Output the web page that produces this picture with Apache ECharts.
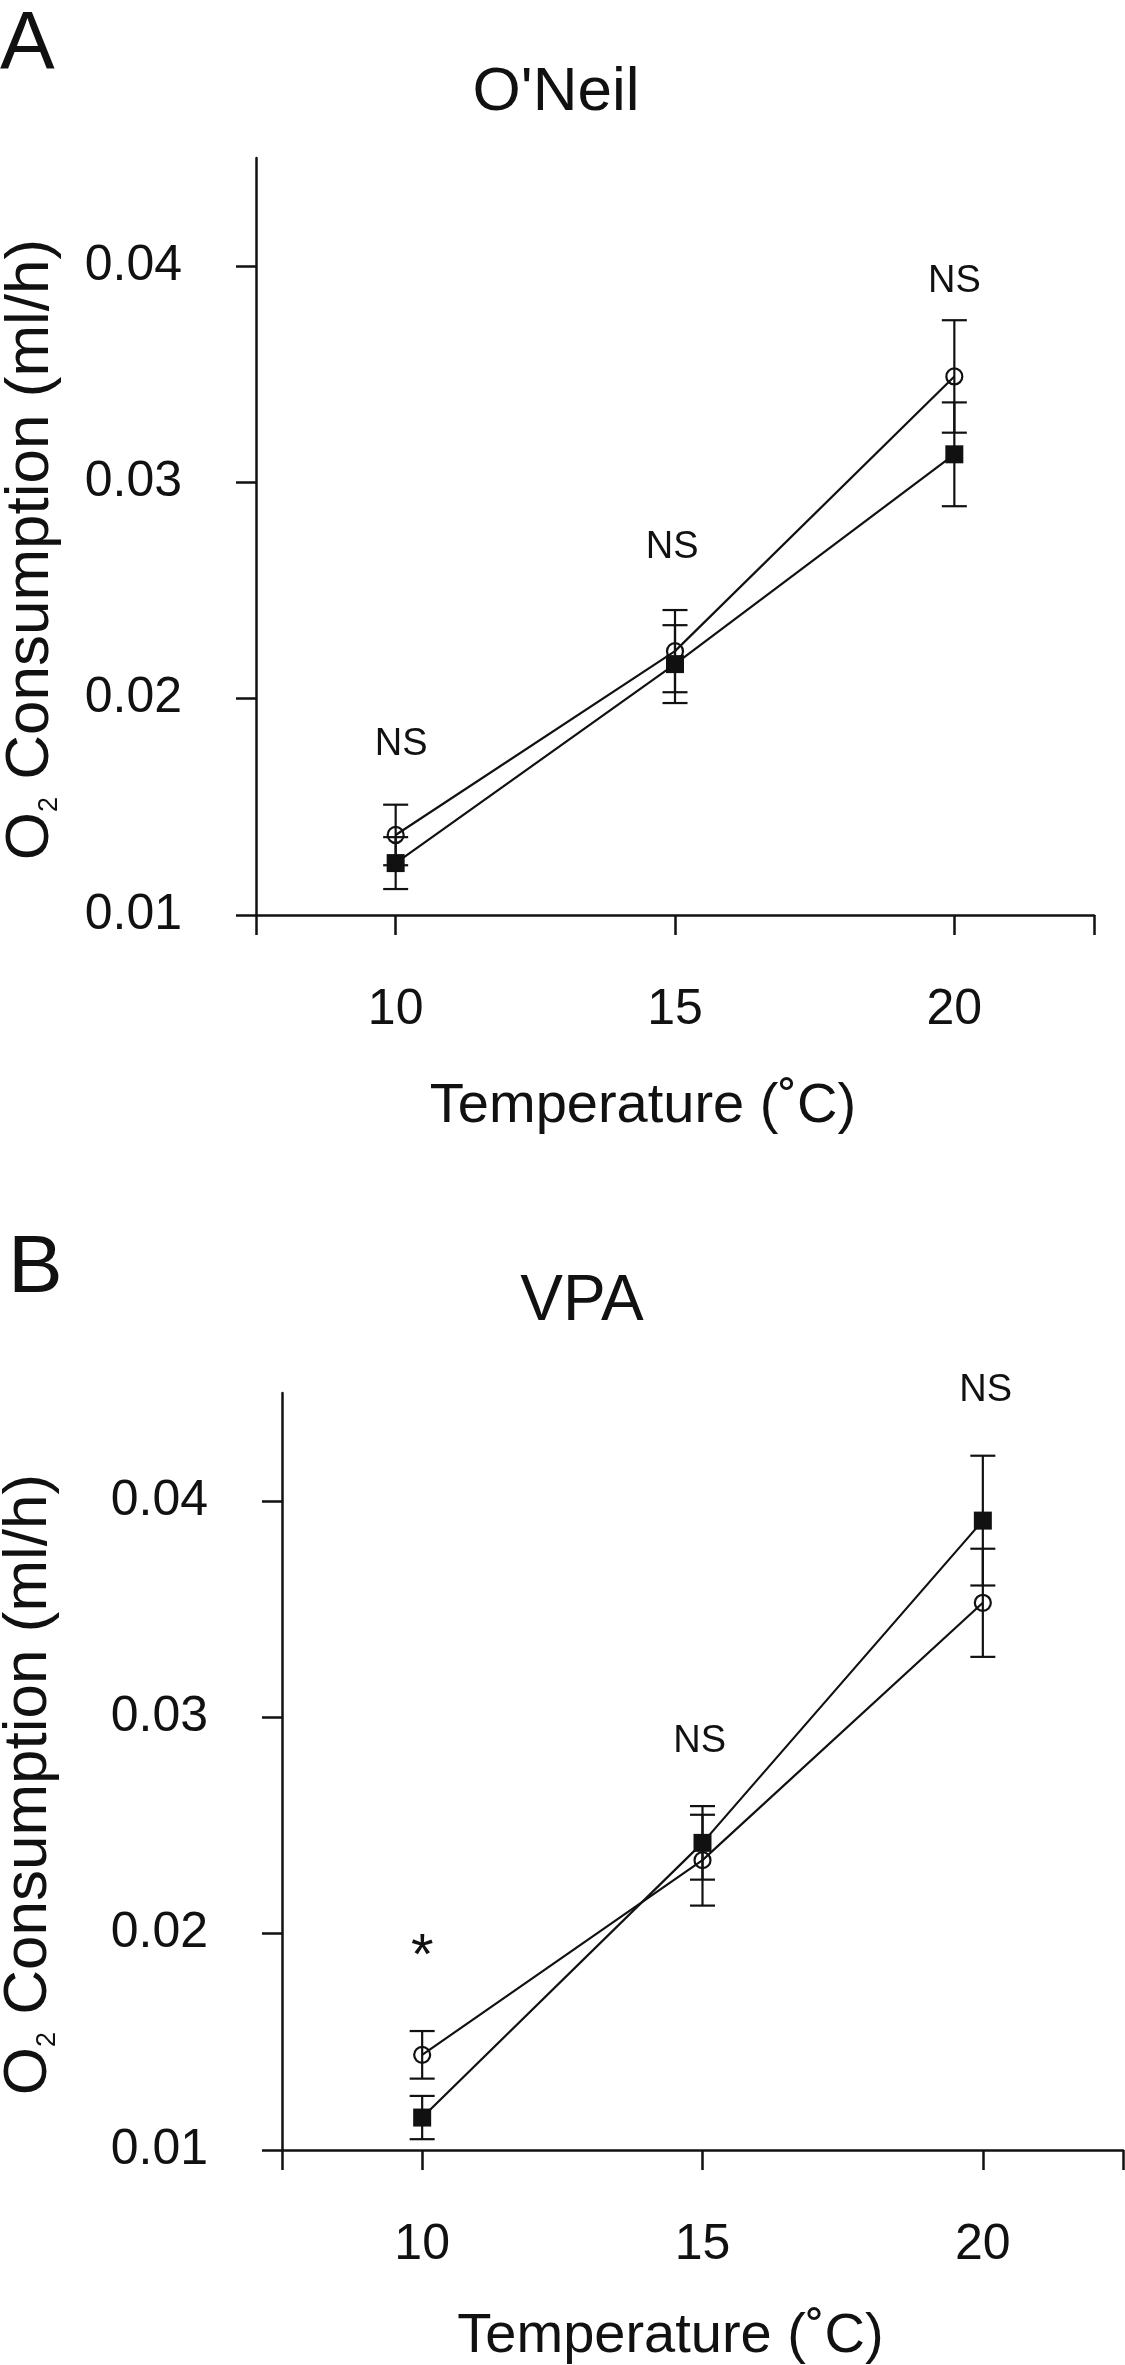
<!DOCTYPE html>
<html>
<head>
<meta charset="utf-8">
<script src="https://cdn.jsdelivr.net/npm/echarts@6/dist/echarts.min.js"></script>
<style>
html,body{margin:0;padding:0;background:#fff;}
#chart{width:1125px;height:2365px;}
</style>
</head>
<body>
<div id="chart"></div>
<script>
var temps = [10, 15, 20];
var xTicks = [7.5, 10, 15, 20, 22.5];
var xLabels = [10, 15, 20];
var yTicks = [0.01, 0.02, 0.03, 0.04];

// A - O'Neil
var oneilOpen = [0.0137, 0.0222, 0.0349];
var oneilOpenErr = [0.0014, 0.0019, 0.0026];
var oneilFilled = [0.0124, 0.0216, 0.0313];
var oneilFilledErr = [0.0012, 0.0018, 0.0024];
var oneilNoteX = [10.1, 14.95, 20];
var oneilNoteY = [0.0179, 0.0270, 0.0393];
var oneilNotes = ['NS', 'NS', 'NS'];

// B - VPA
var vpaOpen = [0.0144, 0.0234, 0.0353];
var vpaOpenErr = [0.0011, 0.0021, 0.0025];
var vpaFilled = [0.0115, 0.0242, 0.0391];
var vpaFilledErr = [0.0010, 0.0017, 0.0030];
var vpaNoteX = [10, 14.95, 20.05];
var vpaNoteY = [0.0189, 0.0289, 0.0451];
var vpaNotes = ['*', 'NS', 'NS'];

var FONT = "'Liberation Sans', Arial, sans-serif";
var INK = '#111';

var myChart = echarts.init(document.getElementById('chart'));

function pts(vals) {
    return temps.map(function (t, i) { return [t, vals[i]]; });
}
function errPts(vals, errs) {
    return temps.map(function (t, i) { return [t, vals[i] - errs[i], vals[i] + errs[i]]; });
}

// vertical error bar with caps
function errRender(params, api) {
    var x = api.value(0);
    var lo = api.coord([x, api.value(1)]);
    var hi = api.coord([x, api.value(2)]);
    var w = 12.5;
    var st = { stroke: INK, lineWidth: 2.2 };
    return {
        type: 'group',
        children: [
            { type: 'line', shape: { x1: lo[0], y1: lo[1], x2: hi[0], y2: hi[1] }, style: st },
            { type: 'line', shape: { x1: lo[0] - w, y1: lo[1], x2: lo[0] + w, y2: lo[1] }, style: st },
            { type: 'line', shape: { x1: hi[0] - w, y1: hi[1], x2: hi[0] + w, y2: hi[1] }, style: st }
        ]
    };
}

function xAxisOf(idx, gap) {
    return {
        type: 'value', gridIndex: idx, min: 7.5, max: 22.5,
        name: 'Temperature (\u02DAC)', nameLocation: 'middle', nameGap: gap,
        nameTextStyle: { fontFamily: FONT, fontSize: 56, color: INK, padding: [0, 64, 0, 0] },
        axisLine: { lineStyle: { color: INK, width: 2.5 } },
        axisTick: { customValues: xTicks, length: 20, lineStyle: { color: INK, width: 2.5 } },
        axisLabel: { customValues: xLabels, fontFamily: FONT, fontSize: 50, color: INK, margin: 70 },
        splitLine: { show: false }
    };
}
function yAxisOf(idx, gap) {
    return {
        type: 'value', gridIndex: idx, min: 0.01, max: 0.045,
        name: '{n|O}{s|2}{n| Consumption (ml/h)}', nameLocation: 'middle', nameGap: gap,
        nameTextStyle: {
            color: INK, padding: [0, 26, 0, 0],
            rich: {
                n: { fontFamily: FONT, fontSize: 62, color: INK, lineHeight: 64 },
                s: { fontFamily: FONT, fontSize: 27, color: INK, lineHeight: 30, verticalAlign: 'bottom' }
            }
        },
        axisLine: { lineStyle: { color: INK, width: 2.5 } },
        axisTick: { customValues: yTicks, length: 20, lineStyle: { color: INK, width: 2.5 } },
        axisLabel: {
            customValues: yTicks, fontFamily: FONT, fontSize: 50, color: INK, margin: 74,
            padding: [10, 0, 0, 0],
            formatter: function (v) { return v.toFixed(2); }
        },
        splitLine: { show: false }
    };
}

function panelSeries(idx, open, openErr, filled, filledErr, noteX, noteY, notes) {
    return [
        {
            type: 'line', xAxisIndex: idx, yAxisIndex: idx, data: pts(filled),
            symbol: 'rect', symbolSize: 18,
            itemStyle: { color: INK }, lineStyle: { color: INK, width: 2.2 }, z: 3
        },
        {
            type: 'line', xAxisIndex: idx, yAxisIndex: idx, data: pts(open),
            symbol: 'circle', symbolSize: 16,
            itemStyle: { color: 'rgba(0,0,0,0)', borderColor: INK, borderWidth: 2.2 },
            lineStyle: { color: INK, width: 2.2 }, z: 3
        },
        {
            type: 'custom', xAxisIndex: idx, yAxisIndex: idx, data: errPts(filled, filledErr),
            renderItem: errRender, encode: { x: 0, y: [1, 2] }, z: 4
        },
        {
            type: 'custom', xAxisIndex: idx, yAxisIndex: idx, data: errPts(open, openErr),
            renderItem: errRender, encode: { x: 0, y: [1, 2] }, z: 4
        },
        {
            type: 'scatter', xAxisIndex: idx, yAxisIndex: idx, clip: false,
            data: noteX.map(function (x, i) { return { value: [x, noteY[i]], name: notes[i] }; }),
            symbolSize: 0,
            itemStyle: { color: INK, opacity: 1 },
            label: {
                show: true, position: 'inside', fontFamily: FONT, color: INK, opacity: 1,
                fontSize: 38, textBorderWidth: 0,
                formatter: function (p) { return p.name; }
            }
        }
    ];
}

var series = [].concat(
    panelSeries(0, oneilOpen, oneilOpenErr, oneilFilled, oneilFilledErr, oneilNoteX, oneilNoteY, oneilNotes),
    panelSeries(1, vpaOpen, vpaOpenErr, vpaFilled, vpaFilledErr, vpaNoteX, vpaNoteY, vpaNotes)
);
// asterisk is larger than the NS marks
series[series.length - 1].data[0].label = { fontSize: 58 };

var option = {
    animation: false,
    backgroundColor: '#fff',
    textStyle: { fontFamily: FONT },
    grid: [
        { left: 256, top: 158, width: 838, height: 757, containLabel: false, outerBoundsMode: 'none' },
        { left: 282, top: 1393, width: 841, height: 757, containLabel: false, outerBoundsMode: 'none' }
    ],
    xAxis: [xAxisOf(0, 164), xAxisOf(1, 159)],
    yAxis: [yAxisOf(0, 193), yAxisOf(1, 221)],
    graphic: [
        { type: 'text', left: 0, top: 4, style: { text: 'A', fontFamily: FONT, fontSize: 82, fill: INK } },
        { type: 'text', left: 8, top: 1228, style: { text: 'B', fontFamily: FONT, fontSize: 82, fill: INK } },
        { type: 'text', x: 556, y: 93, style: { text: "O'Neil", fontFamily: FONT, fontSize: 62, fill: INK, align: 'center', verticalAlign: 'middle' } },
        { type: 'text', x: 582, y: 1302, style: { text: 'VPA', fontFamily: FONT, fontSize: 64, fill: INK, align: 'center', verticalAlign: 'middle' } }
    ],
    series: series
};

myChart.setOption(option);
</script>
</body>
</html>
